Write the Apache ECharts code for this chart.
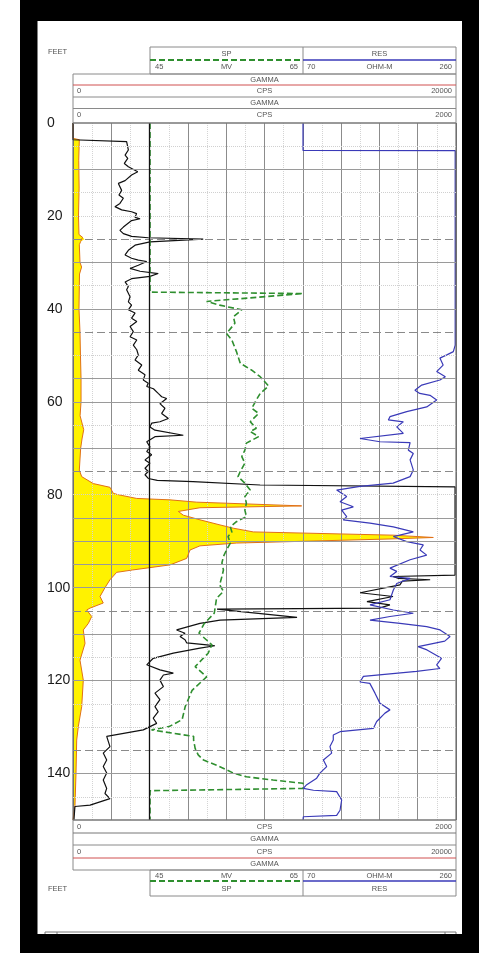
<!DOCTYPE html>
<html><head><meta charset="utf-8">
<script src="https://cdn.jsdelivr.net/npm/echarts@6/dist/echarts.min.js"></script>
<style>html,body{margin:0;padding:0;background:#fff;}#c{width:479px;height:953px;}</style>
</head><body><div id="c"></div>
<script>
// ---------- scales ----------
const depthRange = [0, 150];
const depthTickInterval = 20;
const gammaRange = [0, 2000];
const gammaGridInterval = 200;
const gamma20kRange = [0, 20000];
const spRange = [45, 65];
const resRange = [70, 260];
const spUnit = 'MV';
const resUnit = 'OHM-M';
const gammaUnit = 'CPS';

// ---------- GAMMA 0-2000 CPS (black) ----------
const gammaDepth = [0,3.6,4.0,4.4,5.8,6.9,7.6,8.7,9.4,10.5,11.2,12.4,13.0,14.5,15.5,16.2,17.3,18.0,18.7,19.1,19.5,20.3,20.6,21.0,22.4,23.1,23.8,24.4,24.7,25.0,25.6,26.3,27.4,28.4,29.1,29.5,29.8,30.6,31.3,31.9,32.4,33.0,33.5,34.2,35.2,35.9,37.4,38.5,39.2,40.2,40.9,42.0,42.7,43.8,44.9,46.0,46.7,47.8,48.8,49.9,51.0,52.1,53.2,54.2,55.3,56.0,56.7,57.2,58.2,58.9,59.3,60.4,61.4,62.5,63.6,64.3,64.6,65.4,66.1,67.2,67.5,68.6,69.7,70.7,71.4,72.5,73.2,74.3,75.0,75.7,76.5,76.9,77.2,77.9,78.3,97.3,97.6,98.0,98.3,98.6,99.4,101.1,101.9,103.0,103.7,104.4,104.6,104.8,106.4,107.0,107.7,109.1,109.8,110.5,111.2,111.9,112.3,112.5,113.0,114.1,115.2,116.6,117.7,118.4,118.8,119.9,121.3,122.7,124.1,125.6,126.7,128.1,129.2,129.9,130.6,132.0,134.2,135.6,137.1,138.5,139.9,141.4,143.2,144.3,145.4,146.8,147.1,150];
const gammaCps = [0,0,280,280,289,272,286,268,289,338,306,272,237,254,240,263,245,219,254,306,332,324,350,306,263,245,263,306,393,680,402,324,289,272,306,341,385,341,298,350,445,402,306,272,289,280,298,289,306,289,324,306,333,298,315,298,333,315,333,341,324,359,341,376,367,393,385,420,445,463,489,454,480,463,498,454,411,402,428,576,428,385,402,385,411,376,402,376,393,376,393,440,627,977,1995,1995,1671,1700,1865,1720,1707,1499,1671,1535,1655,1600,752,752,1170,768,663,541,585,559,585,594,699,741,663,524,419,385,454,524,472,454,472,428,454,428,445,419,437,402,367,176,193,158,176,158,176,158,176,167,193,89,10,5];

// ---------- GAMMA 0-20000 CPS (orange edge, yellow fill) ----------
const gamma20kDepth = [0,3.3,3.6,8,14,20,24,24.6,25.0,25.5,26.2,30,31,32.5,40,45,50,55,60,63,66,68,70,74.7,76.1,77.6,78.4,79.7,80.0,80.8,81.1,81.6,82.4,82.8,83.6,84.4,85.4,86.5,87.2,88.0,88.7,89.2,89.5,90.4,91.0,91.9,93.7,95.1,96.2,96.7,98.3,100.0,101.9,103.3,104.4,104.8,106.2,107.7,109.1,112.0,115.6,119.9,125.6,129.9,132.8,139.9,146.8,147.0,150];
const gamma20kCps = [0,0,330,300,320,287,313,500,600,400,330,365,450,340,313,365,390,420,420,370,560,470,400,330,454,1060,1932,2106,2367,3326,5065,6460,11940,6630,5500,5760,6630,7676,8372,9415,16710,18815,16710,8546,6630,6110,5937,5065,3100,2280,1932,1670,1410,1580,890,715,977,800,538,627,365,538,454,277,193,157,104,0,0];

// ---------- SP 45-65 MV (green dashed) ----------
const spDepth = [0,36.4,36.7,37.1,38.4,39.2,40.2,41.7,43.1,45.3,46.7,49.2,51.7,53.2,54.6,56.6,58.2,59.6,61.4,62.5,64.3,65.7,66.4,67.5,68.9,70.4,71.8,73.2,75.0,76.1,77.5,79.0,80.4,81.8,83.3,84.7,85.8,86.9,88.0,89.0,90.4,91.9,93.3,94.7,96.2,97.6,99.4,100.8,102.3,103.4,105.5,107.7,109.8,112.3,114.1,117.0,119.2,122.1,125.6,128.4,129.9,130.6,131.3,132.0,132.8,134.6,136.0,137.1,138.2,139.9,140.7,141.4,142.1,143.2,143.7,150];
const spMv = [45,45,65,65,52.4,54.1,57.0,55.9,56.1,55.0,55.7,56.3,56.8,58.3,59.4,60.5,59.4,58.9,58.3,59.2,58.1,58.9,58.1,59.2,57.6,57.4,57.0,57.4,56.8,56.5,57.4,58.1,57.4,57.6,57.4,57.6,56.3,55.5,55.7,55.2,55.5,55.0,54.6,54.4,54.6,54.4,54.1,54.6,53.7,53.6,53.4,52.1,51.4,53.1,52.6,50.9,52.4,50.5,49.6,49.2,47.5,45.2,47.9,50.7,50.7,50.9,51.3,52.0,53.7,55.9,57.6,61.1,65,65,45,45];

// ---------- RES 70-260 OHM-M (blue) ----------
const resDepth = [0,5.9,5.95,47.8,49.2,49.9,50.6,52.1,53.5,54.6,55.3,56.4,57.5,58.2,58.6,59.6,61.1,62.1,63.2,63.9,64.3,65.4,66.8,67.9,68.1,68.6,68.8,70.4,71.1,72.5,74.7,76.1,77.5,78.2,79.0,80.4,81.5,82.6,83.3,84.7,85.4,86.1,86.9,88.0,89.0,90.1,90.8,91.9,93.0,94.0,95.8,96.5,97.6,98.0,99.1,100.5,102.6,103.7,104.8,105.5,106.2,107.0,107.7,108.4,109.1,110.5,111.5,112.7,113.4,115.2,116.6,117.4,118.0,119.1,120.3,120.6,122.7,124.9,126.3,127.0,128.8,130.3,131.0,131.7,132.8,134.2,135.6,137.1,138.5,139.9,141.0,142.4,143.2,143.6,143.9,145.7,147.9,149.0,149.3,150];
const resOhm = [70,70,259,259,256.7,248.6,240,244,236,246.8,240,217.4,209,215,227.7,236,223.6,198.8,178,176,194.6,186.4,194.6,140.8,138.7,165.6,203,200.8,207,203,207,203,182,140.8,111.8,124.3,116,132.5,118,124.3,120,153.2,182.2,207,182.2,198.8,219.4,215.3,223.6,203,178,186.4,178,203,186.4,182.2,178,153.2,182.2,207,178,153.2,190.5,223.6,240.2,252.6,246,213,224,242,236,240,211,145,140.8,153,159.4,165.6,178,171.8,161.5,157.3,116,107.6,107.6,103.5,105.6,95.3,99.4,91,87,74.6,70.4,83,111.8,118,116,111.8,70.4,70];

// ---------- grid line depths ----------
const solidGridDepths = [10,30,40,55,60,70,85,90,95,100,110,120,140];
const dashedGridDepths = [25,45,75,105,135];
const dottedGridDepths = [5,15,20,35,50,65,80,115,125,130,145];
const trackBoundaryCps = [400];

const pairs = (d, v) => d.map((y, i) => [v[i], y]);
const gammaData = pairs(gammaDepth, gammaCps);
const gamma20kData = pairs(gamma20kDepth, gamma20kCps);
const spData = pairs(spDepth, spMv);
const resData = pairs(resDepth, resOhm);

const FONT = 'Liberation Sans, Arial, sans-serif';
const HC = '#555';
function txt(t, x, y, align, size) {
  return { type: 'text', x: x, y: y, z: 10, silent: true,
    style: { text: t, fill: HC, fontSize: size || 7.5, fontFamily: FONT,
      align: align || 'center', verticalAlign: 'middle',
      textAlign: align || 'center', textVerticalAlign: 'middle' } };
}
function ln(x1, y1, x2, y2, color, w, dash) {
  return { type: 'line', silent: true, z: 10,
    shape: { x1: x1, y1: y1, x2: x2, y2: y2 },
    style: { stroke: color, lineWidth: w || 1, lineDash: dash || null } };
}
function box(x, y, w, h) {
  return { type: 'rect', silent: true, z: 10, shape: { x: x, y: y, width: w, height: h },
    style: { fill: 'none', stroke: '#8a8a8a', lineWidth: 1 } };
}
const GREEN = '#2f8f2f', BLUE = '#3a3ab8', RED = '#d05050';
const L = 73, R = 456, M1 = 150, M2 = 303;
const cx = (L + R) / 2, cSP = (M1 + M2) / 2, cRES = (M2 + R) / 2;

const graphics = [
  // top header
  txt('FEET', 48, 52, 'left'),
  box(M1, 47, R - M1, 27), ln(M2, 47, M2, 74, '#8a8a8a'),
  ln(M1, 60, M2, 60, GREEN, 1.8, [6, 3]), ln(M2, 60, R, 60, BLUE, 1.5),
  txt('SP', cSP, 53.5), txt('RES', cRES, 53.5),
  txt(String(spRange[0]), 155, 67, 'left'), txt(spUnit, cSP, 67), txt(String(spRange[1]), 298, 67, 'right'),
  txt(String(resRange[0]), 307, 67, 'left'), txt(resUnit, cRES, 67), txt(String(resRange[1]), 452, 67, 'right'),
  box(L, 74, R - L, 49),
  ln(L, 85, R, 85, RED, 1), ln(L, 97, R, 97, '#8a8a8a'), ln(L, 108.5, R, 108.5, '#8a8a8a'),
  txt('GAMMA', cx, 79.5),
  txt(String(gamma20kRange[0]), 77, 91, 'left'), txt(gammaUnit, cx, 91), txt(String(gamma20kRange[1]), 452, 91, 'right'),
  txt('GAMMA', cx, 102.5),
  txt(String(gammaRange[0]), 77, 115, 'left'), txt(gammaUnit, cx, 115), txt(String(gammaRange[1]), 452, 115, 'right'),
  // bottom header
  box(L, 820, R - L, 50),
  ln(L, 833, R, 833, '#777'), ln(L, 845, R, 845, '#8a8a8a'), ln(L, 858, R, 858, RED, 1),
  txt(String(gammaRange[0]), 77, 826.5, 'left'), txt(gammaUnit, cx, 826.5), txt(String(gammaRange[1]), 452, 826.5, 'right'),
  txt('GAMMA', cx, 839),
  txt(String(gamma20kRange[0]), 77, 851.5, 'left'), txt(gammaUnit, cx, 851.5), txt(String(gamma20kRange[1]), 452, 851.5, 'right'),
  txt('GAMMA', cx, 864),
  box(M1, 870, R - M1, 26), ln(M2, 870, M2, 896, '#8a8a8a'),
  ln(M1, 881, M2, 881, GREEN, 1.8, [6, 3]), ln(M2, 881, R, 881, BLUE, 1.5),
  txt(String(spRange[0]), 155, 875.5, 'left'), txt(spUnit, cSP, 875.5), txt(String(spRange[1]), 298, 875.5, 'right'),
  txt(String(resRange[0]), 307, 875.5, 'left'), txt(resUnit, cRES, 875.5), txt(String(resRange[1]), 452, 875.5, 'right'),
  txt('SP', cSP, 889), txt('RES', cRES, 889),
  txt('FEET', 48, 889, 'left'),
  ln(45, 932, R, 932, '#777'), ln(45, 932, 45, 940, '#777'), ln(57, 932, 57, 940, '#777'),
  ln(445, 932, 445, 940, '#777'), ln(R, 932, R, 940, '#777'),
  // black frame
  { type: 'rect', z: 100, silent: true, shape: { x: 20, y: 0, width: 459, height: 21 }, style: { fill: '#000' } },
  { type: 'rect', z: 100, silent: true, shape: { x: 20, y: 934, width: 459, height: 19 }, style: { fill: '#000' } },
  { type: 'rect', z: 100, silent: true, shape: { x: 20, y: 0, width: 17.5, height: 953 }, style: { fill: '#000' } },
  { type: 'rect', z: 100, silent: true, shape: { x: 462, y: 0, width: 17, height: 953 }, style: { fill: '#000' } }
];

const markData = []
  .concat(solidGridDepths.map(d => ({ yAxis: d, lineStyle: { color: '#9a9a9a', width: 1, type: 'solid' } })))
  .concat(dashedGridDepths.map(d => ({ yAxis: d, lineStyle: { color: '#8a8a8a', width: 1, type: [8, 4] } })))
  .concat(dottedGridDepths.map(d => ({ yAxis: d, lineStyle: { color: '#d0d0d0', width: 1, type: 'dotted' } })))
  .concat(trackBoundaryCps.map(v => ({ xAxis: v, lineStyle: { color: '#111', width: 1.3, type: 'solid' } })));

const depthAxisBase = { type: 'value', inverse: true, min: depthRange[0], max: depthRange[1] };
const chart = echarts.init(document.getElementById('c'), null, { renderer: 'canvas' });
chart.setOption({
  animation: false,
  backgroundColor: '#fff',
  grid: [
    { left: L, top: 123, width: R - L, height: 697, show: true, borderColor: '#555', borderWidth: 1, backgroundColor: 'transparent', z: 4 },
    { left: M1, top: 123, width: M2 - M1, height: 697 },
    { left: M2, top: 123, width: R - M2, height: 697 }
  ],
  xAxis: [
    { gridIndex: 0, type: 'value', min: gammaRange[0], max: gammaRange[1], interval: gammaGridInterval, position: 'top', z: 2,
      axisLine: { show: false }, axisTick: { show: false }, axisLabel: { show: false },
      splitLine: { show: true, lineStyle: { color: '#8c8c8c', width: 1 } },
      minorTick: { show: false, splitNumber: 2 },
      minorSplitLine: { show: true, lineStyle: { color: '#d4d4d4', type: 'dotted' } } },
    { gridIndex: 0, type: 'value', min: gamma20kRange[0], max: gamma20kRange[1], show: false },
    { gridIndex: 1, type: 'value', min: spRange[0], max: spRange[1], show: false },
    { gridIndex: 2, type: 'value', min: resRange[0], max: resRange[1], show: false }
  ],
  yAxis: [
    Object.assign({}, depthAxisBase, { gridIndex: 0, interval: depthTickInterval, position: 'left', offset: 28,
      axisLine: { show: true, lineStyle: { color: '#777', width: 1 } }, axisTick: { show: false },
      splitLine: { show: false },
      axisLabel: { margin: -2, align: 'left', fontSize: 14, color: '#1a1a1a', fontFamily: FONT,
        formatter: v => (v % depthTickInterval === 0 ? String(v) : '') } }),
    Object.assign({}, depthAxisBase, { gridIndex: 1, show: false }),
    Object.assign({}, depthAxisBase, { gridIndex: 2, show: false })
  ],
  series: [
    { type: 'custom', xAxisIndex: 1, yAxisIndex: 0, z: 1, silent: true, data: gamma20kData,
      encode: { x: 0, y: 1 },
      renderItem: function (params, api) {
        if (params.dataIndex !== 0) return null;
        const pts = [api.coord([gamma20kRange[0], gamma20kDepth[0]])];
        for (let i = 0; i < gamma20kData.length; i++) pts.push(api.coord(gamma20kData[i]));
        pts.push(api.coord([gamma20kRange[0], gamma20kDepth[gamma20kDepth.length - 1]]));
        return { type: 'polygon', shape: { points: pts }, style: { fill: '#fff200', stroke: null } };
      } },
    { type: 'line', xAxisIndex: 1, yAxisIndex: 0, z: 3, silent: true, data: gamma20kData,
      symbol: 'none', showSymbol: false, lineStyle: { color: '#e07018', width: 1 } },
    { type: 'line', xAxisIndex: 0, yAxisIndex: 0, z: 3, silent: true, data: gammaData,
      symbol: 'none', showSymbol: false, lineStyle: { color: '#111', width: 1.2 },
      markLine: { silent: true, symbol: ['none', 'none'], label: { show: false }, emphasis: { disabled: true },
        animation: false, data: markData } },
    { type: 'line', xAxisIndex: 2, yAxisIndex: 1, z: 3, silent: true, data: spData,
      symbol: 'none', showSymbol: false, lineStyle: { color: GREEN, width: 1.6, type: [6, 3] } },
    { type: 'line', xAxisIndex: 3, yAxisIndex: 2, z: 3, silent: true, data: resData,
      symbol: 'none', showSymbol: false, lineStyle: { color: BLUE, width: 1.2 } }
  ],
  graphic: { elements: graphics }
});
</script>
</body></html>
